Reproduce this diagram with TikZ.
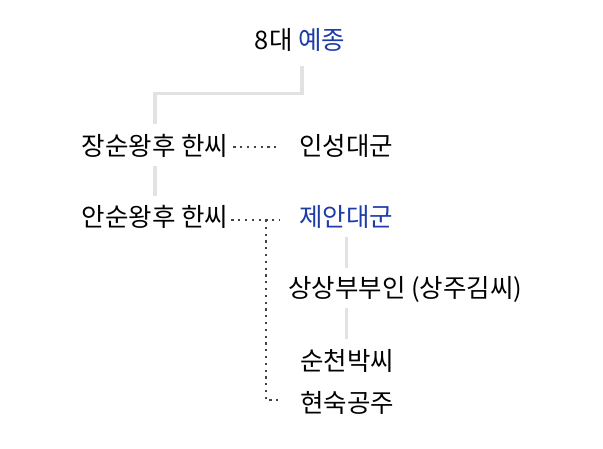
\documentclass[tikz,border=0pt]{standalone}
\usepackage{fontspec}
\setmainfont{Noto Sans CJK KR}
\usetikzlibrary{positioning,calc}
\definecolor{cKing}{HTML}{1C3DA8}
\definecolor{cLine}{HTML}{E2E2E2}
\definecolor{cDot} {HTML}{444444}
\tikzset{
  person/.style={inner sep=0pt,font=\fontsize{25.5}{30}\selectfont,text=black},
  royal/.style ={person,text=cKing},
  desc/.style  ={draw=cLine,line width=3.2pt},
  wed/.style   ={draw=cDot,line width=2.2pt,dash pattern=on 2.2pt off 4.6pt},
}
\begin{document}
\begin{tikzpicture}[x=1pt, y=-1pt]
\useasboundingbox (0,0) rectangle (603,448);

% ===== persons =============================================================
\node[person] (yj)  at (300,40)  {8대 \textcolor{cKing}{예종}};
\node[person] (js)  at (155,146) {장순왕후 한씨};
\node[person,anchor=west] (isd) at (299,146) {인성대군};
\node[person] (as)  at (155,217) {안순왕후 한씨};
\node[royal,anchor=west] (jad) at (299,217) {제안대군};
\node[person,anchor=west] (ss)  at (288,289) {상상부부인 (상주김씨)};
\node[person,anchor=west] (sc)  at (300,361) {순천박씨};
\node[person,anchor=west] (hs)  at (300,403) {현숙공주};

% ===== descent (grey) ======================================================
\coordinate (fork) at ($(yj.south)+(2,42)$);
\draw[desc] ([shift={(2pt,-14pt)}]yj.south) -- (fork) -| ([yshift=10pt]js.north);
\draw[desc,shorten <=8pt,shorten >=9pt] (js.south) -- (as.north);
\draw[desc,shorten <=8pt,shorten >=8pt] (jad.south) -- (jad.south |- ss.north);
\draw[desc,shorten <=6pt,shorten >=10pt] (ss.south -| jad.south) -- (jad.south |- sc.north);

% ===== marriage (dotted) ===================================================
\draw[wed,shorten <=5pt,shorten >=19pt] ([yshift=-1pt]js.east) -- ([yshift=-1pt]js.east -| isd.west);
\draw[wed,shorten <=3pt,shorten >=19pt] ([yshift=-3pt]as.east) -- ([yshift=-3pt]as.east -| jad.west);
\coordinate (tap) at ($([yshift=-3pt]as.east)!0.53!([yshift=-3pt]as.east -| jad.west)$);
\draw[wed,shorten >=19pt] (tap) |- ([yshift=3pt]hs.west);
\end{tikzpicture}
\end{document}
